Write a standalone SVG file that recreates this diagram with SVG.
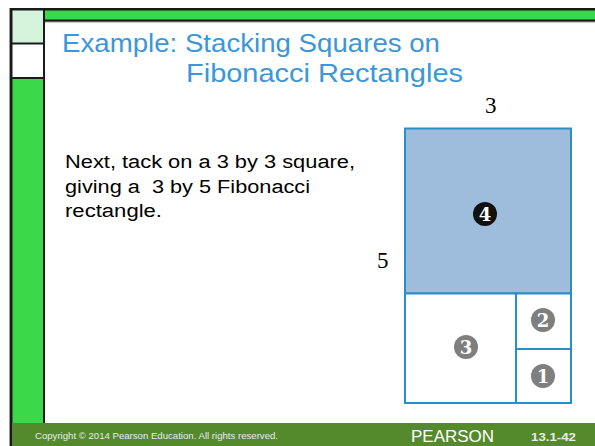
<svg xmlns="http://www.w3.org/2000/svg" width="595" height="446" viewBox="0 0 595 446">
<style>
.title{font-family:"Century Gothic","URW Gothic","Liberation Sans",sans-serif;font-size:25px;fill:#3b97d9}
.body{font-family:"Century Gothic","Liberation Sans",Arial,sans-serif;font-size:18px;fill:#000}
.dim{font-family:"Liberation Serif","Times New Roman",serif;font-size:23px;fill:#000}
.sq{stroke:#2b8fc7;stroke-width:2;fill:#fff}
.num{font-family:"DejaVu Serif","Liberation Serif",serif;font-weight:bold;font-size:18px;fill:#fff;text-anchor:middle}
.foot{font-family:"Liberation Sans",Arial,sans-serif;fill:#eaeaea}
</style>
<rect width="595" height="446" fill="#fff"/>
<g id="frame">
<rect x="44" y="8" width="551" height="14" fill="#1a1a1a"/>
<rect x="44" y="10.5" width="551" height="9" fill="#3bd84a"/>
<line x1="44" y1="22" x2="595" y2="22" stroke="#9a9a9a" stroke-width="1"/>
<rect x="10" y="8" width="35" height="438" fill="#1a1a1a"/>
<rect x="12.5" y="10.5" width="30.5" height="32" fill="#d4f4dc"/>
<rect x="12.5" y="44.5" width="30.5" height="32.5" fill="#fff"/>
<rect x="12.5" y="79" width="30.5" height="344" fill="#3bd84a"/>
<line x1="9.5" y1="8" x2="9.5" y2="446" stroke="#9a9a9a" stroke-width="1"/>
</g>
<g id="footer">
<rect x="12" y="423" width="583" height="23" fill="#558a2c"/>
<text class="foot" x="35" y="439" font-size="9" textLength="243" lengthAdjust="spacingAndGlyphs">Copyright © 2014  Pearson Education. All rights reserved.</text>
<text x="411" y="442" font-family="'Gill Sans','Liberation Sans',sans-serif" font-size="16" fill="#fff" textLength="83" lengthAdjust="spacingAndGlyphs">PEARSON</text>
<text class="foot" x="531" y="441" font-size="10" font-weight="bold" fill="#fff" textLength="45" lengthAdjust="spacingAndGlyphs">13.1-42</text>
</g>
<g id="title">
<text class="title" x="62" y="52" textLength="378" lengthAdjust="spacingAndGlyphs">Example: Stacking Squares on</text>
<text class="title" x="186" y="82" textLength="277" lengthAdjust="spacingAndGlyphs">Fibonacci Rectangles</text>
</g>
<g id="body">
<text class="body" x="65" y="168" textLength="290" lengthAdjust="spacingAndGlyphs">Next, tack on a 3 by 3 square,</text>
<text class="body" x="65" y="193" xml:space="preserve" textLength="245" lengthAdjust="spacingAndGlyphs">giving a  3 by 5 Fibonacci</text>
<text class="body" x="65" y="217" textLength="97" lengthAdjust="spacingAndGlyphs">rectangle.</text>
</g>
<g id="square4">
<rect class="sq" x="405" y="128.5" width="166" height="165" style="fill:#9ebcdb"/>
<circle cx="485" cy="214" r="12" fill="#111"/>
<text class="num" x="485" y="220.5">4</text>
</g>
<g id="square3">
<rect class="sq" x="405" y="293.5" width="111" height="109.5"/>
<circle cx="466" cy="347" r="12" fill="#7f7f7f"/>
<text class="num" x="466" y="353.5">3</text>
</g>
<g id="square2">
<rect class="sq" x="516" y="293.5" width="55" height="55.5"/>
<circle cx="543" cy="320" r="12" fill="#7f7f7f"/>
<text class="num" x="543" y="326.5">2</text>
</g>
<g id="square1">
<rect class="sq" x="516" y="349" width="55" height="54"/>
<circle cx="543" cy="376" r="12" fill="#7f7f7f"/>
<text class="num" x="543" y="382.5">1</text>
</g>
<g id="labels">
<text class="dim" x="485" y="113">3</text>
<text class="dim" x="377" y="268">5</text>
</g>
</svg>
